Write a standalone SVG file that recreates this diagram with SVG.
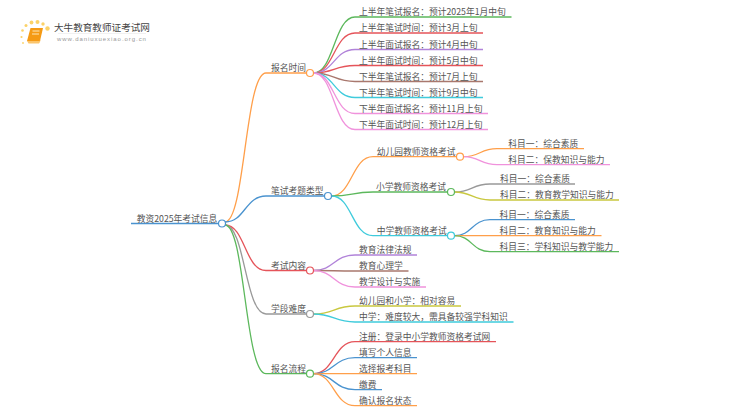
<svg xmlns="http://www.w3.org/2000/svg" width="750" height="410" viewBox="0 0 750 410">
<style>
text{font-family:"Noto Sans CJK SC","Noto Sans",sans-serif;font-size:8.75px;fill:#555}
#connectors path{fill:none;stroke-width:1.3}
circle.n{fill:#fff;stroke-width:1.2}
.or{stroke:#ff9f4a}.bl{stroke:#4a93cf}.re{stroke:#e5545a}.gy{stroke:#999}.gr{stroke:#5cb85c}
.pu{stroke:#b183d9}.br{stroke:#a9786e}.cy{stroke:#3fcbdc}.pk{stroke:#f092dc}.ol{stroke:#c9c83f}
</style>
<rect width="750" height="410" fill="#fff"/>
<g id="logo">
<g fill="#fbd268"><circle cx="47.500" cy="28.500" r="2.200"/><circle cx="43" cy="24" r="1.700"/><circle cx="37.500" cy="22" r="2"/><circle cx="31.500" cy="22.500" r="1.900"/><circle cx="26" cy="25.500" r="1.500"/><circle cx="22.500" cy="30.500" r="1.300"/><circle cx="21.500" cy="37" r="1.100"/><circle cx="23" cy="43" r=".9"/></g>
<path d="M30.500 28H43L40 41H27z" fill="#f59a14"/><path d="M27 41h12.500l1-1.500 2.500-11-3 13.500-1 1.500H28.500z" fill="#fbc56c"/><path d="M32.500 31h7M32 34h7" stroke="#fde7b8" stroke-width="1"/>
<text x="54" y="30.500" style="font-size:9.6px;fill:#444">大牛教育教师证考试网</text>
<path d="M58 33.500h88" stroke="#eee" stroke-width=".8"/>
<text x="57" y="41" style="font-size:6px;letter-spacing:.95px;fill:#999;font-family:'Liberation Sans',sans-serif">www.daniuxuexiao.org.cn</text>
</g>
<g id="connectors">
<path class="bl" d="M131 223.500H218.500"/>
<path class="or" d="M225 222C245 222 245 73 266 73H306.500"/>
<path class="bl" d="M225 222C245 222 245 196 266 196H324.500"/>
<path class="re" d="M225 225C245 225 245 270.500 266 270.500H306.500"/>
<path class="gy" d="M225 225C245 225 245 314 266 314H306.500"/>
<path class="gr" d="M225 225C245 225 245 373.700 266 373.700H306.500"/>

<path class="gr" d="M313.500 73C334 73 334 17 355 17H511.500"/>
<path class="re" d="M313.500 73C334 73 334 33 355 33H483"/>
<path class="pu" d="M313.500 73C334 73 334 49.500 355 49.500H483"/>
<path class="re" d="M313.500 73C334 73 334 65.500 355 65.500H483"/>
<path class="br" d="M313.500 73C334 73 334 81.500 355 81.500H483"/>
<path class="cy" d="M313.500 73C334 73 334 97.500 355 97.500H483"/>
<path class="pk" d="M313.500 73C334 73 334 113.500 355 113.500H488"/>
<path class="pk" d="M313.500 73C334 73 334 129.500 355 129.500H488"/>

<path class="or" d="M331.500 196C352 196 352 156.700 373 156.700H456.500"/>
<path class="gr" d="M331.500 196C352 196 352 192 373 192H447.500"/>
<path class="cy" d="M331.500 196C352 196 352 235.700 373 235.700H447.500"/>

<path class="or" d="M463.500 156.700C480 156.700 480 148.700 497 148.700H584"/>
<path class="pk" d="M463.500 156.700C480 156.700 480 164.700 497 164.700H610"/>
<path class="gy" d="M454.500 192C472 192 472 184 490 184H575"/>
<path class="ol" d="M454.500 192C472 192 472 200 490 200H619"/>
<path class="bl" d="M454.500 235.700C472 235.700 472 219.700 490 219.700H575"/>
<path class="or" d="M454.500 235.700C472 235.700 472 235.700 490 235.700H601.500"/>
<path class="gr" d="M454.500 235.700C472 235.700 472 251.700 490 251.700H619"/>

<path class="pu" d="M313.500 270.500C334 270.500 334 255 355 255H417"/>
<path class="br" d="M313.500 270.500C334 270.500 334 271 355 271H408.500"/>
<path class="pk" d="M313.500 270.500C334 270.500 334 287 355 287H426"/>

<path class="ol" d="M313.500 314C334 314 334 306 355 306H461"/>
<path class="cy" d="M313.500 314C334 314 334 322 355 322H513.500"/>

<path class="re" d="M313.500 373.700C334 373.700 334 341.700 355 341.700H496"/>
<path class="bl" d="M313.500 373.700C334 373.700 334 357.700 355 357.700H417"/>
<path class="or" d="M313.500 373.700C334 373.700 334 373.700 355 373.700H417"/>
<path class="bl" d="M313.500 373.700C334 373.700 334 389.700 355 389.700H382"/>
<path class="or" d="M313.500 373.700C334 373.700 334 405.700 355 405.700H417"/>
</g>
<g id="root"><text x="136.700" y="221.500">教资2025年考试信息</text><circle class="n bl" cx="222" cy="223.500" r="3.500"/></g>
<g id="n-baoming"><text x="271" y="71">报名时间</text><circle class="n or" cx="310" cy="73" r="3.500"/></g>
<g id="n-bishi"><text x="271" y="194">笔试考题类型</text><circle class="n bl" cx="328" cy="196" r="3.500"/></g>
<g id="n-neirong"><text x="271" y="268.500">考试内容</text><circle class="n re" cx="310" cy="270.500" r="3.500"/></g>
<g id="n-nandu"><text x="271" y="312">学段难度</text><circle class="n gy" cx="310" cy="314" r="3.500"/></g>
<g id="n-liucheng"><text x="271" y="371.700">报名流程</text><circle class="n gr" cx="310" cy="373.700" r="3.500"/></g>

<g id="t1"><text x="359" y="15">上半年笔试报名：预计2025年1月中旬</text></g>
<g id="t2"><text x="359" y="31">上半年笔试时间：预计3月上旬</text></g>
<g id="t3"><text x="359" y="47.500">上半年面试报名：预计4月中旬</text></g>
<g id="t4"><text x="359" y="63.500">上半年面试时间：预计5月中旬</text></g>
<g id="t5"><text x="359" y="79.500">下半年笔试报名：预计7月上旬</text></g>
<g id="t6"><text x="359" y="95.500">下半年笔试时间：预计9月中旬</text></g>
<g id="t7"><text x="359" y="111.500">下半年面试报名：预计11月上旬</text></g>
<g id="t8"><text x="359" y="127.500">下半年面试时间：预计12月上旬</text></g>

<g id="kg"><text x="376.700" y="154.700">幼儿园教师资格考试</text><circle class="n or" cx="460" cy="156.700" r="3.500"/></g>
<g id="xx"><text x="376" y="190">小学教师资格考试</text><circle class="n gr" cx="451" cy="192" r="3.500"/></g>
<g id="zx"><text x="376.700" y="233.700">中学教师资格考试</text><circle class="n cy" cx="451" cy="235.700" r="3.500"/></g>

<g id="kg1"><text x="508.300" y="146.700">科目一：综合素质</text></g>
<g id="kg2"><text x="508.300" y="162.700">科目二：保教知识与能力</text></g>
<g id="xx1"><text x="500" y="182">科目一：综合素质</text></g>
<g id="xx2"><text x="500" y="198">科目二：教育教学知识与能力</text></g>
<g id="zx1"><text x="499.500" y="217.700">科目一：综合素质</text></g>
<g id="zx2"><text x="499.500" y="233.700">科目二：教育知识与能力</text></g>
<g id="zx3"><text x="499.500" y="249.700">科目三：学科知识与教学能力</text></g>

<g id="nr1"><text x="359" y="253">教育法律法规</text></g>
<g id="nr2"><text x="359" y="269">教育心理学</text></g>
<g id="nr3"><text x="359" y="285">教学设计与实施</text></g>
<g id="nd1"><text x="359" y="304">幼儿园和小学：相对容易</text></g>
<g id="nd2"><text x="359" y="320">中学：难度较大，需具备较强学科知识</text></g>
<g id="lc1"><text x="359" y="339.700">注册：登录中小学教师资格考试网</text></g>
<g id="lc2"><text x="359" y="355.700">填写个人信息</text></g>
<g id="lc3"><text x="359" y="371.700">选择报考科目</text></g>
<g id="lc4"><text x="359" y="387.700">缴费</text></g>
<g id="lc5"><text x="359" y="403.700">确认报名状态</text></g>
</svg>
